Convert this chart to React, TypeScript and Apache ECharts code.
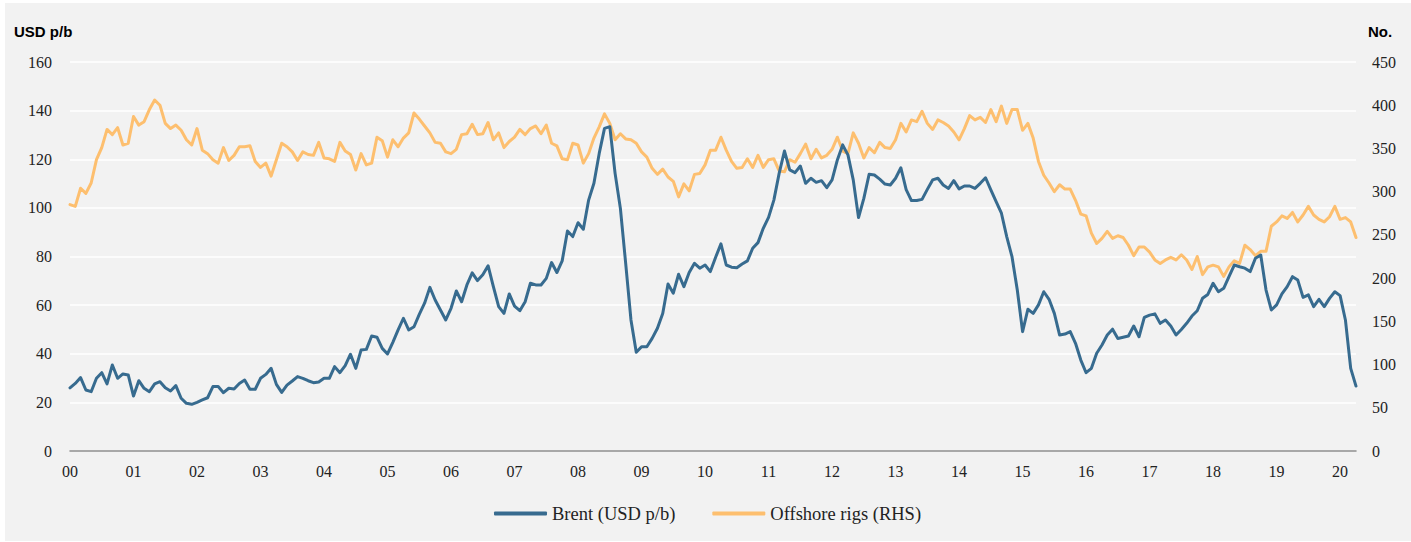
import React, { useEffect, useRef } from "react";
import * as echarts from "echarts";

const yearLabels = ["00","01","02","03","04","05","06","07","08","09","10","11","12","13","14","15","16","17","18","19","20"];

const brent = [
  26.0, 27.8, 30.2, 25.1, 24.4, 29.9, 32.2, 27.6, 35.4, 29.9, 31.7, 31.3,
  22.6, 28.9, 25.8, 24.4, 27.6, 28.5, 26.0, 24.7, 26.9, 21.7, 19.6, 19.2,
  20.0, 21.0, 21.9, 26.5, 26.5, 24.0, 25.8, 25.5, 27.8, 29.2, 25.4, 25.4,
  29.9, 31.5, 34.0, 27.4, 24.1, 27.1, 28.8, 30.6, 29.9, 28.9, 28.1, 28.4,
  29.9, 29.9, 34.7, 32.2, 35.1, 39.8, 34.0, 41.5, 41.8, 47.3, 46.8, 42.2,
  39.9, 44.7, 49.8, 54.6, 49.8, 51.1, 56.2, 60.8, 67.3, 62.1, 58.0, 53.9,
  58.7, 65.8, 61.4, 68.3, 73.3, 70.1, 72.5, 76.2, 67.6, 59.4, 56.6, 64.6,
  59.6, 57.7, 61.4, 69.0, 68.3, 68.3, 71.0, 77.5, 73.4, 78.2, 90.5, 88.2,
  93.9, 91.2, 103.2, 110.1, 122.4, 132.7, 133.4, 114.2, 99.8, 77.2, 53.9, 40.6,
  42.9, 42.9, 46.3, 50.5, 56.6, 68.7, 64.9, 72.7, 67.6, 73.4, 77.2, 75.2,
  76.5, 73.8, 79.7, 85.2, 76.5, 75.6, 75.4, 76.9, 78.2, 83.4, 85.7, 91.6,
  96.1, 103.2, 114.2, 123.4, 115.6, 114.5, 117.2, 110.1, 112.2, 110.5, 111.2, 108.3,
  111.5, 119.7, 125.9, 121.8, 111.5, 96.0, 103.9, 113.8, 113.5, 111.8, 109.8, 109.4,
  112.2, 116.5, 107.5, 103.0, 103.0, 103.5, 107.6, 111.5, 112.2, 109.4, 108.0, 111.2,
  107.8, 109.0, 109.0, 108.0, 110.1, 112.4, 107.4, 102.6, 97.8, 88.2, 79.9, 66.2,
  49.1, 58.3, 56.6, 60.1, 65.5, 62.4, 56.6, 47.7, 48.1, 49.1, 44.3, 37.4,
  32.2, 34.0, 40.2, 43.6, 47.7, 50.1, 46.3, 46.8, 47.3, 51.4, 47.0, 55.0,
  55.9, 56.4, 52.5, 53.9, 51.4, 47.7, 50.0, 52.5, 55.5, 57.7, 62.8, 64.4,
  69.0, 65.5, 66.9, 71.7, 76.5, 75.8, 75.2, 73.8, 79.3, 80.6, 66.2, 58.0,
  60.1, 64.6, 67.6, 71.7, 70.3, 63.2, 64.2, 59.4, 62.4, 59.4, 62.8, 65.5,
  63.9, 53.9, 34.0, 26.7
];

const rigs = [
  285, 283, 304, 298, 310, 337, 351, 372, 366, 374, 354, 356,
  387, 377, 381, 395, 406, 400, 379, 373, 377, 371, 360, 354,
  373, 348, 344, 337, 333, 351, 336, 342, 352, 352, 353, 335,
  328, 333, 318, 337, 356, 352, 346, 336, 346, 343, 342, 357,
  339, 338, 335, 357, 347, 343, 325, 344, 331, 333, 363, 359,
  340, 360, 352, 362, 368, 391, 384, 376, 368, 357, 356, 346,
  344, 349, 366, 367, 378, 366, 367, 380, 360, 368, 351, 358,
  363, 372, 366, 373, 376, 367, 377, 356, 353, 338, 337, 356,
  354, 333, 344, 362, 375, 390, 379, 360, 367, 361, 360, 356,
  346, 340, 327, 320, 326, 317, 312, 294, 309, 301, 320, 321,
  331, 348, 348, 363, 348, 335, 327, 328, 338, 328, 342, 328,
  337, 338, 324, 323, 337, 334, 344, 355, 338, 349, 339, 342,
  349, 363, 347, 344, 368, 356, 339, 351, 345, 357, 351, 350,
  360, 379, 369, 383, 381, 393, 379, 372, 383, 380, 376, 369,
  360, 373, 388, 383, 386, 380, 395, 381, 399, 379, 395, 395,
  371, 379, 362, 335, 319, 310, 300, 308, 303, 303, 290, 274,
  272, 252, 240, 246, 254, 246, 249, 247, 238, 226, 236, 236,
  230, 221, 217, 221, 224, 221, 227, 221, 210, 225, 204, 213,
  215, 213, 202, 213, 220, 217, 238, 233, 226, 231, 231, 260,
  265, 272, 269, 276, 265, 273, 283, 273, 268, 265, 271, 283,
  268, 270, 265, 247
];

const seriesNames = ["Brent (USD p/b)", "Offshore rigs (RHS)"];
const axisTitles = ["USD p/b", "No."];

const months = brent.map((_, i) => yearLabels[Math.floor(i / 12)] + "-" + ((i % 12) + 1));

const SERIF = "'Liberation Serif', 'Times New Roman', serif";
const SANS = "'Liberation Sans', Arial, sans-serif";

export default function App() {
  const ref = useRef<HTMLDivElement>(null);
  useEffect(() => {
    if (!ref.current) return;
    const chart = echarts.init(ref.current, null, { renderer: "svg" });
    chart.setOption({
      animation: false,
      backgroundColor: "#f2f2f2",
      grid: { left: 65, top: 59, width: 1286, height: 389, containLabel: false },
      legend: {
        data: seriesNames,
        left: 484,
        top: 496,
        icon: "roundRect",
        itemWidth: 53,
        itemHeight: 4,
        itemGap: 37,
        textStyle: { fontFamily: SERIF, fontSize: 18.5, color: "#222", padding: [0, 0, 0, 0] },
      },
      graphic: [
        { type: "text", left: 9, top: 21, style: { text: axisTitles[0], font: "bold 15px " + SANS, fill: "#000" } },
        { type: "text", left: 1363, top: 21, style: { text: axisTitles[1], font: "bold 15px " + SANS, fill: "#000" } },
      ],
      xAxis: {
        type: "category",
        data: months,
        boundaryGap: false,
        axisLine: { show: true, lineStyle: { color: "#8c8c8c", width: 1.5 } },
        axisTick: { show: false },
        axisLabel: {
          interval: (i: number) => i % 12 === 0,
          formatter: (v: string) => v.split("-")[0],
          fontFamily: SERIF,
          fontSize: 16,
          color: "#222",
          margin: 12,
        },
        splitLine: { show: false },
      },
      yAxis: [
        {
          type: "value",
          min: 0,
          max: 160,
          interval: 20,
          axisLine: { show: false },
          axisTick: { show: false },
          axisLabel: { fontFamily: SERIF, fontSize: 16, color: "#222", margin: 18 },
          splitLine: { show: true, lineStyle: { color: "#ffffff", width: 1.5 } },
        },
        {
          type: "value",
          min: 0,
          max: 450,
          interval: 50,
          position: "right",
          axisLine: { show: false },
          axisTick: { show: false },
          axisLabel: { fontFamily: SERIF, fontSize: 16, color: "#222", margin: 16 },
          splitLine: { show: false },
        },
      ],
      series: [
        {
          name: seriesNames[1],
          type: "line",
          yAxisIndex: 1,
          data: rigs,
          showSymbol: false,
          symbol: "none",
          lineStyle: { color: "#fdbf6f", width: 3, cap: "round", join: "round" },
          itemStyle: { color: "#fdbf6f" },
          z: 2,
        },
        {
          name: seriesNames[0],
          type: "line",
          yAxisIndex: 0,
          data: brent,
          showSymbol: false,
          symbol: "none",
          lineStyle: { color: "#376b8f", width: 3, cap: "round", join: "round" },
          itemStyle: { color: "#376b8f" },
          z: 3,
        },
      ],
    });
    return () => chart.dispose();
  }, []);
  return (
    <div style={{ position: "fixed", left: 0, top: 0, width: 1411, height: 542, background: "#ffffff" }}>
      <div ref={ref} style={{ position: "absolute", left: 5, top: 3, width: 1406, height: 538 }} />
    </div>
  );
}
